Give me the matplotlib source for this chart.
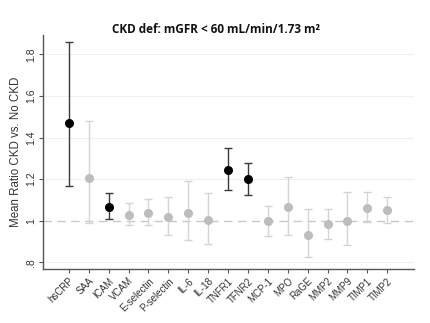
import matplotlib
matplotlib.use("Agg")
import matplotlib.pyplot as plt

markers = ["hsCRP", "SAA", "ICAM", "VCAM", "E-selectin", "P-selectin", "IL-6", "IL-18",
           "TNFR1", "TFNR2", "MCP-1", "MPO", "RaGE", "MMP2", "MMP9", "TIMP1", "TIMP2"]
ratio = [1.471, 1.207, 1.067, 1.029, 1.038, 1.019, 1.037, 1.003,
         1.245, 1.199, 0.998, 1.064, 0.934, 0.983, 1.000, 1.063, 1.050]
upper = [1.859, 1.479, 1.132, 1.087, 1.103, 1.115, 1.189, 1.132,
         1.350, 1.277, 1.072, 1.210, 1.058, 1.058, 1.136, 1.136, 1.112]
lower = [1.167, 0.987, 1.008, 0.978, 0.981, 0.933, 0.907, 0.888,
         1.149, 1.124, 0.928, 0.934, 0.827, 0.912, 0.882, 0.994, 0.987]
significant = [True, False, True, False, False, False, False, False,
               True, True, False, False, False, False, False, False, False]
yticks = [0.8, 1.0, 1.2, 1.4, 1.6, 1.8]
yticklabels = [".8", "1", "1.2", "1.4", "1.6", "1.8"]

plt.rcParams["font.family"] = ["Liberation Sans", "DejaVu Sans"]

fig = plt.figure(figsize=(4.30, 3.23), dpi=100)
ax = fig.add_axes([0.10, 0.167, 0.863, 0.725])

for i, (m, r, u, l, s) in enumerate(zip(markers, ratio, upper, lower, significant)):
    x = i + 1
    ecol = "#3a3a3a" if s else "#d4d4d4"
    pcol = "black" if s else "#bdbdbd"
    ax.errorbar([x], [r], yerr=[[r - l], [u - r]], fmt="none", ecolor=ecol,
                elinewidth=1.0, capsize=3, capthick=1.0, zorder=2)
    ax.plot([x], [r], "o", color=pcol, markersize=5.5, zorder=3)

ax.axhline(1.0, color="#c8c8c8", linestyle=(0, (6, 4)), linewidth=1.0, zorder=1)
for yv in [0.8, 1.2, 1.4, 1.6, 1.8]:
    ax.axhline(yv, color="#f0f0f0", linewidth=0.8, zorder=0)

ax.set_xlim(-0.3, 18.35)
ax.set_ylim(0.768, 1.893)
ax.set_xticks(range(1, len(markers) + 1))
ax.set_xticklabels(markers, rotation=45, ha="right", rotation_mode="anchor",
                   fontsize=7, color="#333333")
ax.set_yticks(yticks)
ax.set_yticklabels(yticklabels, rotation=90, va="center", fontsize=7.5, color="#333333")
ax.set_ylabel("Mean Ratio CKD vs. No CKD", fontsize=8.3, color="#333333", labelpad=3)

for side in ["top", "right"]:
    ax.spines[side].set_visible(False)
for side in ["left", "bottom"]:
    ax.spines[side].set_color("#555555")
    ax.spines[side].set_linewidth(1.0)
ax.tick_params(axis="both", color="#555555", length=3, width=0.8, pad=2)

fig.text(0.502, 0.89, "CKD def: mGFR < 60 mL/min/1.73 m\u00b2", ha="center", va="bottom",
         fontsize=8.5, fontweight="bold", family=["Open Sans", "DejaVu Sans"], color="#111111")

fig.savefig("out.png", dpi=100, facecolor="white")
